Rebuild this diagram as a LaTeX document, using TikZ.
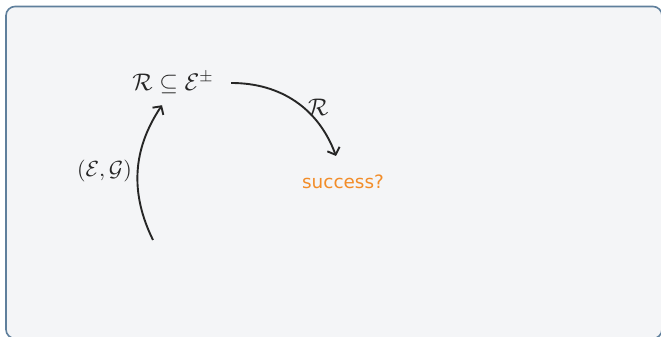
\documentclass[tikz,border=0pt]{standalone}
\usepackage{fontspec}
\newfontfamily\labelfont{DejaVu Sans}
\usetikzlibrary{arrows.meta}
\definecolor{bg}{HTML}{F4F5F7}
\definecolor{framec}{HTML}{5F7F9C}
\definecolor{ink}{HTML}{262626}
\definecolor{orng}{HTML}{F28C28}
\begin{document}
\begin{tikzpicture}[x=0.5pt,y=-0.5pt,
  mathlbl/.style={text=ink,font=\fontsize{12}{14}\selectfont},
  smalllbl/.style={text=ink,font=\fontsize{11}{13}\selectfont},
  succ/.style={text=orng,font=\labelfont\fontsize{9.2}{11}\selectfont},
  arr/.style={draw=ink,line width=0.95pt,-{Straight Barb[length=3pt,width=6.5pt,line width=0.95pt]}}]
\useasboundingbox (0,0) rectangle (661,337);
\begin{scope}
\clip (0,0) rectangle (661,337);
\draw[framec,fill=bg,line width=0.8pt,rounded corners=4.5pt] (6,6.5) rectangle (662,338.5);
\end{scope}
\node[mathlbl,inner xsep=8.5pt,inner ysep=5.5pt] (m) at (173,83) {$\mathcal{R}\subseteq\mathcal{E}^{\pm}$};
\node[succ] (s) at (343,182) {success?};
\coordinate (st) at (153,240);
\draw[arr] (st) to[bend left=30] node[midway,left,smalllbl,inner sep=2.5pt] {$(\mathcal{E},\mathcal{G})$} ([xshift=-5.5pt]m.south);
\draw[arr] (m.east) to[bend left=35] node[pos=0.57,right,mathlbl,inner sep=2pt] {$\mathcal{R}$} ([xshift=-3.5pt,yshift=6pt]s.north);
\end{tikzpicture}
\end{document}
